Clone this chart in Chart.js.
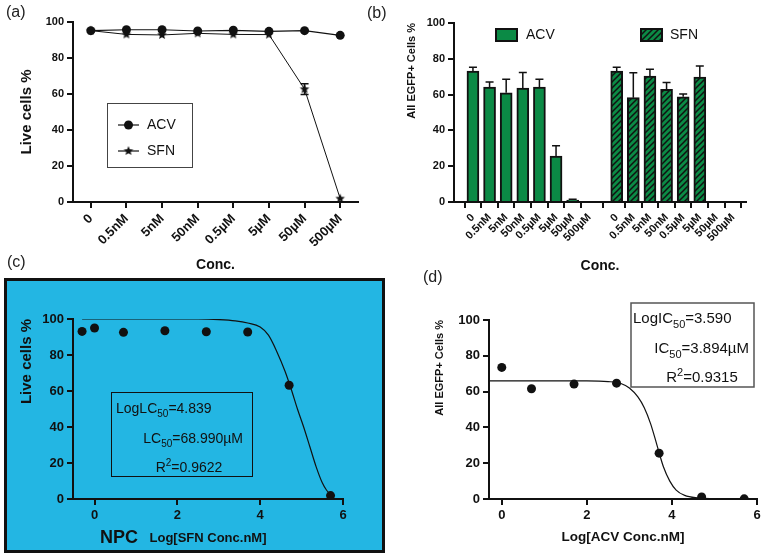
<!DOCTYPE html>
<html>
<head>
<meta charset="utf-8">
<script src="https://cdn.jsdelivr.net/npm/chart.js@4.4.1/dist/chart.umd.min.js"></script>
<style>
  body { margin: 0; background: #fff; }
  #wrap { position: relative; width: 764px; height: 556px; overflow: hidden; font-family: "Liberation Sans", Arial, sans-serif; }
  canvas { position: absolute; }
  .lbl { position: absolute; font-size: 16px; line-height: 16px; color: #222; z-index: 5; }
</style>
</head>
<body>
<div id="wrap">
  <canvas id="cA" width="370" height="280" style="left:0;top:0"></canvas>
  <canvas id="cB" width="394" height="280" style="left:370px;top:0"></canvas>
  <canvas id="cC" width="381" height="275" style="left:4px;top:278px"></canvas>
  <canvas id="cD" width="374" height="276" style="left:390px;top:280px"></canvas>
  <div class="lbl" style="left:6px;top:4px">(a)</div>
  <div class="lbl" style="left:367px;top:5px">(b)</div>
  <div class="lbl" style="left:7px;top:254px">(c)</div>
  <div class="lbl" style="left:423px;top:269px">(d)</div>
</div>
<script>
// ---- data ----
const concLabels = ['0', '0.5nM', '5nM', '50nM', '0.5µM', '5µM', '50µM', '500µM'];
const pctTicks = [0, 20, 40, 60, 80, 100];
const logTicks = [0, 2, 4, 6];

// (a) live cells %
const acvLive = [95.2, 95.7, 95.7, 95.0, 95.4, 94.8, 95.2, 92.6];
const sfnLive = [95.2, 93.1, 92.8, 93.7, 93.1, 93.0, 62.7, 1.9];
const sfnLiveErr = [0, 0, 0, 0, 0, 0, 3.0, 0];

// (b) all EGFP+ cells %
const acvEgfp = [73.1, 64.2, 61.0, 63.6, 64.2, 25.6, 1.1, 0];
const acvEgfpErr = [2.2, 2.8, 7.6, 8.8, 4.4, 5.8, 0.4, 0];
const sfnEgfp = [73.1, 58.3, 70.3, 62.9, 58.8, 69.8, 0, 0];
const sfnEgfpErr = [2.2, 13.9, 3.9, 3.9, 1.5, 6.2, 0, 0];

// (c) SFN dose response
const sfnLogX = [-0.301, 0, 0.699, 1.699, 2.699, 3.699, 4.699, 5.699];
const sfnLogY = [93.1, 95.0, 92.6, 93.5, 92.9, 92.8, 63.2, 1.9];
const sfnFitX = [-0.3, 2.5, 3.0, 3.4, 3.7, 4.0, 4.2, 4.4, 4.6, 4.75, 4.9, 5.05, 5.2, 5.35, 5.5, 5.6, 5.7];
const sfnFitY = [100, 100, 99.7, 99, 97.8, 95.5, 91, 82, 71, 61, 50, 40, 29, 18, 9, 5, 2.5];

// (d) ACV dose response
const acvLogX = [0, 0.699, 1.699, 2.699, 3.699, 4.699, 5.699];
const acvLogY = [73.5, 61.6, 64.2, 64.7, 25.6, 1.1, 0.1];
const acvFitX = [-0.3, 2.0, 2.5, 2.8, 3.0, 3.2, 3.35, 3.5, 3.65, 3.8, 3.95, 4.1, 4.3, 4.6, 5.0, 5.7];
const acvFitY = [66, 66, 65.6, 64.5, 62, 57, 51, 42, 30, 18, 10, 5, 2, 0.6, 0.2, 0];

// ---- styling ----
const ink = '#111';
const green = '#0b8a45';
const sky = '#23b6e3';
const FONT = '"Liberation Sans", Arial, sans-serif';
Chart.defaults.font.family = FONT;
Chart.defaults.color = ink;
Chart.defaults.animation = false;
Chart.defaults.plugins.legend.display = false;
Chart.defaults.plugins.tooltip.enabled = false;

function makeStar(r) {
  const c = document.createElement('canvas');
  c.width = c.height = r * 2 + 2;
  const g = c.getContext('2d');
  g.translate(r + 1, r + 1);
  g.beginPath();
  for (let k = 0; k < 10; k++) {
    const rad = k % 2 ? r * 0.45 : r;
    const a = -Math.PI / 2 + k * Math.PI / 5;
    g.lineTo(rad * Math.cos(a), rad * Math.sin(a));
  }
  g.closePath();
  g.fillStyle = ink;
  g.fill();
  return c;
}
const star = makeStar(5);

function hatch(canvasId) {
  const c = document.createElement('canvas');
  c.width = c.height = 6;
  const g = c.getContext('2d');
  g.fillStyle = green;
  g.fillRect(0, 0, 6, 6);
  g.strokeStyle = ink;
  g.lineWidth = 1.5;
  g.beginPath();
  g.moveTo(-1, 7); g.lineTo(7, -1);
  g.moveTo(-1, 1); g.lineTo(1, -1);
  g.moveTo(5, 7); g.lineTo(7, 5);
  g.stroke();
  return document.getElementById(canvasId).getContext('2d').createPattern(c, 'repeat');
}

function yAxis(w, title, tickSize, titleSize, pad, align) {
  return {
    min: 0, max: 100,
    afterFit: s => { s.width = w; },
    afterBuildTicks: s => { s.ticks = pctTicks.map(v => ({value: v})); },
    border: {color: ink, width: 2},
    grid: {drawOnChartArea: false, color: ink, lineWidth: 2, tickLength: 6},
    ticks: {color: ink, font: {size: tickSize, weight: 'bold'}, padding: 3},
    title: {display: true, text: title, color: ink, align: align,
            font: {size: titleSize, weight: 'bold'}, padding: {top: pad, bottom: 0}}
  };
}

function richText(ctx, parts, x, y, align, size) {
  const small = Math.round(size * 0.7);
  let w = 0;
  parts.forEach(p => {
    ctx.font = (p[1] ? small : size) + 'px ' + FONT;
    w += ctx.measureText(p[0]).width;
  });
  let cx = align === 'left' ? x : align === 'right' ? x - w : x - w / 2;
  ctx.textAlign = 'left';
  ctx.textBaseline = 'alphabetic';
  parts.forEach(p => {
    ctx.font = (p[1] ? small : size) + 'px ' + FONT;
    const dy = p[1] === 'sub' ? size * 0.3 : p[1] === 'sup' ? -size * 0.42 : 0;
    ctx.fillText(p[0], cx, y + dy);
    cx += ctx.measureText(p[0]).width;
  });
}

const errorBars = {
  id: 'errorBars',
  afterDatasetsDraw(chart, args, opts) {
    const ctx = chart.ctx, ys = chart.scales.y;
    ctx.save();
    ctx.strokeStyle = ink;
    ctx.lineWidth = 1.5;
    opts.sets.forEach(s => {
      const meta = chart.getDatasetMeta(s.dataset);
      const vals = chart.data.datasets[s.dataset].data;
      s.err.forEach((e, i) => {
        if (!e) return;
        const v = typeof vals[i] === 'object' ? vals[i].y : vals[i];
        const x = meta.data[i].x;
        const top = ys.getPixelForValue(v + e);
        const bot = ys.getPixelForValue(s.both ? v - e : v);
        ctx.beginPath();
        ctx.moveTo(x, bot); ctx.lineTo(x, top);
        ctx.moveTo(x - s.cap, top); ctx.lineTo(x + s.cap, top);
        if (s.both) { ctx.moveTo(x - s.cap, bot); ctx.lineTo(x + s.cap, bot); }
        ctx.stroke();
      });
    });
    ctx.restore();
  }
};

// ---- (a) ----
const legendA = {
  id: 'legendA',
  afterDraw(chart) {
    const ctx = chart.ctx;
    ctx.save();
    ctx.strokeStyle = '#444';
    ctx.lineWidth = 1;
    ctx.strokeRect(107.5, 103.5, 85, 64);
    ctx.strokeStyle = ink;
    ctx.lineWidth = 1.2;
    [125, 151].forEach(y => { ctx.beginPath(); ctx.moveTo(118, y); ctx.lineTo(139, y); ctx.stroke(); });
    ctx.fillStyle = ink;
    ctx.beginPath(); ctx.arc(128.5, 125, 4.5, 0, Math.PI * 2); ctx.fill();
    ctx.drawImage(star, 128.5 - star.width / 2, 151 - star.height / 2);
    ctx.font = '14px ' + FONT;
    ctx.textBaseline = 'middle';
    ctx.fillText('ACV', 147, 125);
    ctx.fillText('SFN', 147, 151);
    ctx.restore();
  }
};

new Chart('cA', {
  type: 'line',
  data: {
    labels: concLabels,
    datasets: [
      {label: 'ACV', data: acvLive, borderColor: ink, borderWidth: 1.2, pointRadius: 4.5,
       pointBackgroundColor: ink, pointBorderWidth: 0, tension: 0},
      {label: 'SFN', data: sfnLive, borderColor: ink, borderWidth: 1, pointStyle: star, tension: 0}
    ]
  },
  options: {
    responsive: false,
    layout: {padding: {top: 22, right: 12, left: 0, bottom: 0}},
    scales: {
      x: {
        type: 'category', offset: true,
        afterFit: s => { s.height = 78; },
        border: {color: ink, width: 2},
        grid: {drawOnChartArea: false, color: ink, lineWidth: 2, tickLength: 6, offset: false},
        ticks: {autoSkip: false, minRotation: 45, maxRotation: 45, font: {size: 13, weight: 'bold'}, padding: 3},
        title: {display: true, text: 'Conc.', font: {size: 14, weight: 'bold'}, padding: {top: 0, bottom: 6}}
      },
      y: yAxis(73, 'Live cells %', 11, 15, 18, 'center')
    },
    plugins: {errorBars: {sets: [{dataset: 1, err: sfnLiveErr, both: true, cap: 4}]}}
  },
  plugins: [errorBars, legendA]
});

// ---- (b) ----
const groupGap = 8.65;
const bTickPos = concLabels.map((c, i) => i).concat(concLabels.map((c, i) => i + groupGap));
const bTickLabels = concLabels.concat(concLabels);
const sfnPattern = hatch('cB');

const legendB = {
  id: 'legendB',
  afterDraw(chart) {
    const ctx = chart.ctx;
    ctx.save();
    ctx.lineWidth = 2;
    ctx.strokeStyle = ink;
    ctx.fillStyle = green;
    ctx.fillRect(126, 29, 21, 12); ctx.strokeRect(126, 29, 21, 12);
    ctx.fillStyle = sfnPattern;
    ctx.fillRect(271, 29, 21, 12); ctx.strokeRect(271, 29, 21, 12);
    ctx.fillStyle = ink;
    ctx.font = '14px ' + FONT;
    ctx.textBaseline = 'middle';
    ctx.fillText('ACV', 156, 35);
    ctx.fillText('SFN', 300, 35);
    ctx.restore();
  }
};

new Chart('cB', {
  type: 'bar',
  data: {
    datasets: [
      {label: 'ACV', data: acvEgfp.map((v, i) => ({x: bTickPos[i], y: v})),
       backgroundColor: green, borderColor: ink, borderWidth: 2, barThickness: 12, grouped: false},
      {label: 'SFN', data: sfnEgfp.map((v, i) => ({x: bTickPos[i + 8], y: v})),
       backgroundColor: sfnPattern, borderColor: ink, borderWidth: 2, barThickness: 12, grouped: false}
    ]
  },
  options: {
    responsive: false,
    layout: {padding: {top: 23, right: 18, left: 0, bottom: 0}},
    scales: {
      x: {
        type: 'linear', min: -1.14, max: 16.43, offset: false,
        afterFit: s => { s.height = 78; },
        afterBuildTicks: s => { s.ticks = bTickPos.map(v => ({value: v})); },
        border: {color: ink, width: 2},
        grid: {drawOnChartArea: false, color: ink, lineWidth: 2, tickLength: 6},
        ticks: {autoSkip: false, minRotation: 45, maxRotation: 45, font: {size: 11, weight: 'bold'}, padding: 3,
                callback: (v, i) => bTickLabels[i]},
        title: {display: true, text: 'Conc.', font: {size: 14, weight: 'bold'}, padding: {top: 0, bottom: 5}}
      },
      y: yAxis(84, 'All EGFP+ Cells %', 11, 11, 35, 'end')
    },
    plugins: {errorBars: {sets: [
      {dataset: 0, err: acvEgfpErr, both: false, cap: 4},
      {dataset: 1, err: sfnEgfpErr, both: false, cap: 4}
    ]}}
  },
  plugins: [errorBars, legendB]
});

// ---- (c) ----
const panelC = {
  id: 'panelC',
  beforeDraw(chart) {
    const ctx = chart.ctx;
    ctx.save();
    ctx.fillStyle = sky;
    ctx.fillRect(0, 0, chart.width, chart.height);
    ctx.strokeStyle = ink;
    ctx.lineWidth = 3;
    ctx.strokeRect(1.5, 1.5, chart.width - 3, chart.height - 3);
    ctx.restore();
  },
  afterDraw(chart) {
    const ctx = chart.ctx;
    ctx.save();
    ctx.strokeStyle = ink;
    ctx.lineWidth = 1;
    ctx.strokeRect(107.5, 114.5, 141, 84);
    ctx.fillStyle = ink;
    richText(ctx, [['LogLC'], ['50', 'sub'], ['=4.839']], 112, 135, 'left', 14);
    richText(ctx, [['LC'], ['50', 'sub'], ['=68.990µM']], 239, 165, 'right', 14);
    richText(ctx, [['R'], ['2', 'sup'], ['=0.9622']], 185, 194, 'center', 14);
    ctx.font = 'bold 18px ' + FONT;
    ctx.textAlign = 'left';
    ctx.textBaseline = 'alphabetic';
    ctx.fillText('NPC', 96, 265);
    ctx.restore();
  }
};

function logX(min, max, h, title, pad, tickSize, titleSize) {
  return {
    type: 'linear', min: min, max: max,
    afterFit: s => { s.height = h; },
    afterBuildTicks: s => { s.ticks = logTicks.map(v => ({value: v})); },
    border: {color: ink, width: 2},
    grid: {drawOnChartArea: false, color: ink, lineWidth: 2, tickLength: 6},
    ticks: {font: {size: tickSize, weight: 'bold'}, padding: 3},
    title: {display: true, text: title, font: {size: titleSize, weight: 'bold'}, padding: {top: 0, bottom: pad}}
  };
}

new Chart('cC', {
  type: 'scatter',
  data: {
    datasets: [
      {label: 'SFN', data: sfnLogX.map((x, i) => ({x: x, y: sfnLogY[i]})),
       pointRadius: 4.5, pointBackgroundColor: ink, pointBorderWidth: 0},
      {label: 'fit', data: sfnFitX.map((x, i) => ({x: x, y: sfnFitY[i]})),
       showLine: true, pointRadius: 0, borderColor: ink, borderWidth: 1.2, cubicInterpolationMode: 'monotone'}
    ]
  },
  options: {
    responsive: false,
    layout: {padding: {top: 41, right: 42, left: 0, bottom: 0}},
    scales: {
      x: logX(-0.52, 6, 54, 'Log[SFN Conc.nM]', 7, 13, 13),
      y: yAxis(69, 'Live cells %', 13, 15, 14, 'end')
    }
  },
  plugins: [panelC]
});

// ---- (d) ----
const panelD = {
  id: 'panelD',
  afterDraw(chart) {
    const ctx = chart.ctx;
    ctx.save();
    ctx.strokeStyle = '#555';
    ctx.lineWidth = 1.5;
    ctx.strokeRect(241, 23, 123, 84);
    ctx.fillStyle = ink;
    richText(ctx, [['LogIC'], ['50', 'sub'], ['=3.590']], 243, 43, 'left', 15);
    richText(ctx, [['IC'], ['50', 'sub'], ['=3.894µM']], 359, 73, 'right', 15);
    richText(ctx, [['R'], ['2', 'sup'], ['=0.9315']], 312, 102, 'center', 15);
    ctx.restore();
  }
};

new Chart('cD', {
  type: 'scatter',
  data: {
    datasets: [
      {label: 'ACV', data: acvLogX.map((x, i) => ({x: x, y: acvLogY[i]})),
       pointRadius: 4.5, pointBackgroundColor: ink, pointBorderWidth: 0},
      {label: 'fit', data: acvFitX.map((x, i) => ({x: x, y: acvFitY[i]})),
       showLine: true, pointRadius: 0, borderColor: ink, borderWidth: 1.2, cubicInterpolationMode: 'monotone'}
    ]
  },
  options: {
    responsive: false,
    layout: {padding: {top: 40, right: 7, left: 0, bottom: 0}},
    scales: {
      x: logX(-0.3, 6, 57, 'Log[ACV Conc.nM]', 11, 13, 13.5),
      y: yAxis(99, 'All EGFP+ Cells %', 13, 11, 43, 'end')
    }
  },
  plugins: [panelD]
});
</script>
</body>
</html>
